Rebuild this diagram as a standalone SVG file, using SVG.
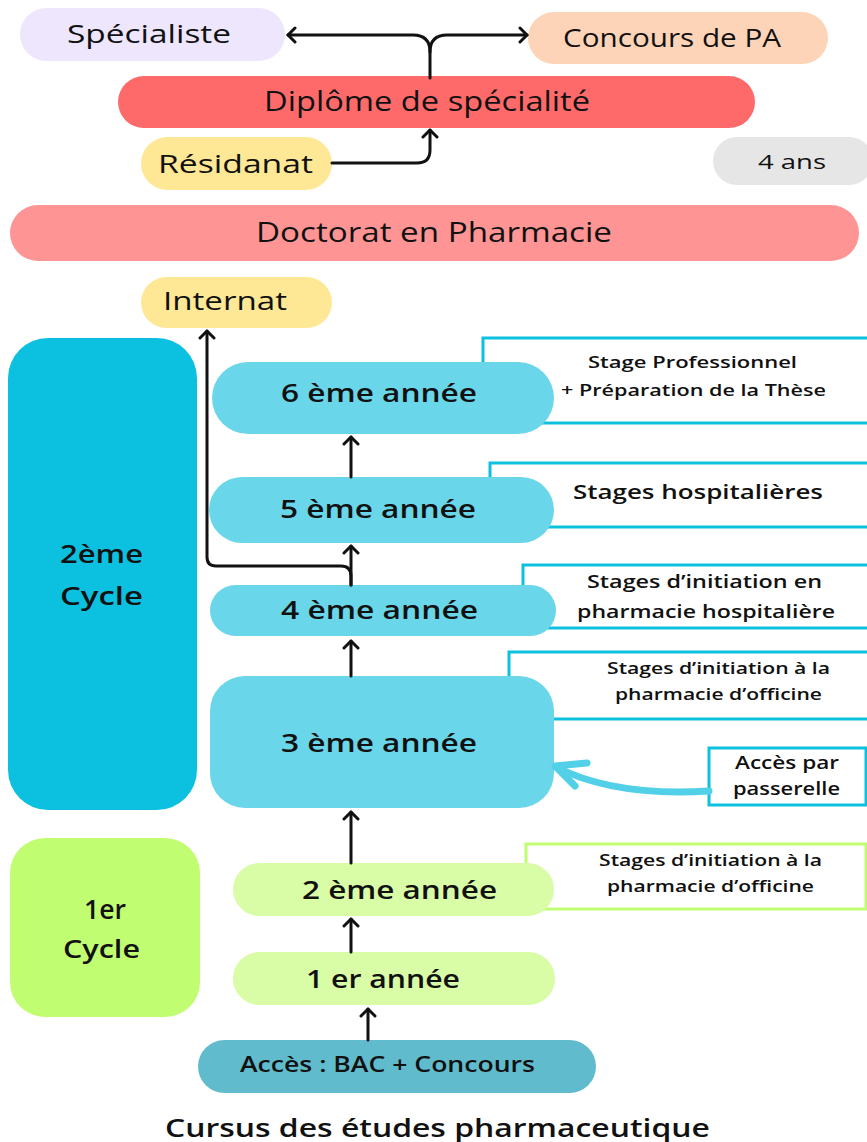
<svg xmlns="http://www.w3.org/2000/svg" width="867" height="1142" viewBox="0 0 867 1142">
<defs>
<style>
text{font-family:"Open Sans","Liberation Sans",sans-serif;fill:#111;text-anchor:middle;dominant-baseline:central}
.r{font-weight:400}
.b{font-weight:600}
.box{fill:#fff;stroke:#0cc0df;stroke-width:3}
.gbox{fill:#fff;stroke:#c1fd70;stroke-width:3}
.yr{fill:#6ad6ea}
.yg{fill:#d9fca7}
.ar{fill:none;stroke:#111;stroke-width:3;stroke-linecap:round;stroke-linejoin:round}
</style>
<marker id="ah" viewBox="-9 -9 18 18" markerWidth="18" markerHeight="18" markerUnits="userSpaceOnUse" refX="0" refY="0" orient="auto">
<path d="M-7,-7 L0,0 L-7,7" fill="none" stroke="#111" stroke-width="3" stroke-linecap="round" stroke-linejoin="round"/>
</marker>
</defs>
<rect width="867" height="1142" fill="#fff"/>

<g id="specialiste"><rect x="20" y="8" width="265" height="53" rx="26.5" fill="#ede6fd"/><text class="r" x="149" y="33" font-size="25" textLength="164" lengthAdjust="spacingAndGlyphs">Spécialiste</text></g>
<g id="concours-pa"><rect x="528" y="12" width="300" height="52" rx="26" fill="#fed4b8"/><text class="r" x="672" y="37" font-size="25" textLength="218" lengthAdjust="spacingAndGlyphs">Concours de PA</text></g>
<g id="diplome"><rect x="118" y="76" width="637" height="52" rx="26" fill="#fe6a6a"/><text class="r" x="427" y="100" font-size="27" textLength="326" lengthAdjust="spacingAndGlyphs">Diplôme de spécialité</text></g>
<g id="residanat"><rect x="141" y="137" width="191" height="53" rx="26.5" fill="#fee896"/><text class="r" x="235.5" y="163" font-size="26" textLength="155" lengthAdjust="spacingAndGlyphs">Résidanat</text></g>
<g id="quatre-ans"><rect x="713" y="137" width="160" height="48" rx="24" fill="#e6e6e6"/><text class="r" x="792" y="161" font-size="20" textLength="68" lengthAdjust="spacingAndGlyphs">4 ans</text></g>
<g id="doctorat"><rect x="10" y="205" width="849" height="56" rx="28" fill="#fe9494"/><text class="r" x="434" y="231" font-size="27" textLength="356" lengthAdjust="spacingAndGlyphs">Doctorat en Pharmacie</text></g>
<g id="internat"><rect x="141" y="277" width="191" height="51" rx="25.5" fill="#fee896"/><text class="r" x="225" y="300" font-size="26" textLength="124" lengthAdjust="spacingAndGlyphs">Internat</text></g>

<g id="cycle2"><rect x="8" y="338" width="189" height="472" rx="40" fill="#0cc0df"/><text class="b" x="101.5" y="553" font-size="26" textLength="83" lengthAdjust="spacingAndGlyphs">2ème</text><text class="b" x="101.5" y="595" font-size="26" textLength="83" lengthAdjust="spacingAndGlyphs">Cycle</text></g>
<g id="cycle1"><rect x="10" y="838" width="190" height="179" rx="35" fill="#c1fd70"/><text class="b" x="105" y="908" font-size="27" textLength="42" lengthAdjust="spacingAndGlyphs">1er</text><text class="b" x="101.5" y="948" font-size="26" textLength="77" lengthAdjust="spacingAndGlyphs">Cycle</text></g>

<g id="annee6"><rect class="box" x="483" y="338" width="390" height="85"/><rect class="yr" x="212" y="362" width="342" height="72" rx="36"/><text class="b" x="379" y="392" font-size="26" textLength="196" lengthAdjust="spacingAndGlyphs">6 ème année</text><text class="b" x="692.5" y="361" font-size="17" textLength="209" lengthAdjust="spacingAndGlyphs">Stage Professionnel</text><text class="b" x="693.5" y="389" font-size="17" textLength="265" lengthAdjust="spacingAndGlyphs">+ Préparation de la Thèse</text></g>
<g id="annee5"><rect class="box" x="490" y="463" width="383" height="64"/><rect class="yr" x="209" y="477" width="345" height="66" rx="33"/><text class="b" x="378" y="508" font-size="26" textLength="196" lengthAdjust="spacingAndGlyphs">5 ème année</text><text class="b" x="698" y="492" font-size="19" textLength="250" lengthAdjust="spacingAndGlyphs">Stages hospitalières</text></g>
<g id="annee4"><rect class="box" x="523" y="565" width="350" height="63"/><rect class="yr" x="210" y="585" width="346" height="51" rx="25.5"/><text class="b" x="379.5" y="609" font-size="26" textLength="197" lengthAdjust="spacingAndGlyphs">4 ème année</text><text class="b" x="704.5" y="581" font-size="18" textLength="235" lengthAdjust="spacingAndGlyphs">Stages d’initiation en</text><text class="b" x="706" y="611" font-size="18" textLength="258" lengthAdjust="spacingAndGlyphs">pharmacie hospitalière</text></g>
<g id="annee3"><rect class="box" x="509" y="652" width="364" height="67"/><rect class="yr" x="210" y="676" width="344" height="132" rx="35"/><text class="b" x="379" y="742" font-size="26" textLength="196" lengthAdjust="spacingAndGlyphs">3 ème année</text><text class="b" x="718.5" y="668" font-size="16" textLength="223" lengthAdjust="spacingAndGlyphs">Stages d’initiation à la</text><text class="b" x="718.5" y="694" font-size="16" textLength="207" lengthAdjust="spacingAndGlyphs">pharmacie d’officine</text></g>
<g id="passerelle"><rect class="box" x="709" y="748" width="157" height="57"/><text class="b" x="787" y="762" font-size="18" textLength="104" lengthAdjust="spacingAndGlyphs">Accès par</text><text class="b" x="786.5" y="788" font-size="18" textLength="107" lengthAdjust="spacingAndGlyphs">passerelle</text></g>
<g id="annee2"><rect class="gbox" x="526" y="844" width="340" height="65"/><rect class="yg" x="233" y="863" width="321" height="53" rx="26.5"/><text class="b" x="399.5" y="889" font-size="26" textLength="195" lengthAdjust="spacingAndGlyphs">2 ème année</text><text class="b" x="710.5" y="860" font-size="16" textLength="223" lengthAdjust="spacingAndGlyphs">Stages d’initiation à la</text><text class="b" x="710.5" y="886" font-size="16" textLength="207" lengthAdjust="spacingAndGlyphs">pharmacie d’officine</text></g>
<g id="annee1"><rect class="yg" x="233" y="952" width="322" height="53" rx="26.5"/><text class="b" x="383" y="978" font-size="26" textLength="154" lengthAdjust="spacingAndGlyphs">1 er année</text></g>
<g id="acces"><rect x="198" y="1040" width="398" height="53" rx="26.5" fill="#60bccc"/><text class="b" x="387.5" y="1064" font-size="21" textLength="295" lengthAdjust="spacingAndGlyphs">Accès : BAC + Concours</text></g>

<g id="connectors">
<path class="ar" d="M430,78 L430,52 Q430,35 413,35 L288,35" marker-end="url(#ah)"/>
<path class="ar" d="M430,52 Q430,35 447,35 L527,35" marker-end="url(#ah)"/>
<path class="ar" d="M332,163 L417,163 Q430,163 430,150 L430,130" marker-end="url(#ah)"/>
<path class="ar" d="M351,585 L351,576 Q351,566 341,566 L216,566 Q207,566 207,557 L207,331" marker-end="url(#ah)"/>
<path class="ar" d="M351,477 L351,437" marker-end="url(#ah)"/>
<path class="ar" d="M351,585 L351,546" marker-end="url(#ah)"/>
<path class="ar" d="M351,676 L351,641" marker-end="url(#ah)"/>
<path class="ar" d="M351,863 L351,812" marker-end="url(#ah)"/>
<path class="ar" d="M351,952 L351,919" marker-end="url(#ah)"/>
<path class="ar" d="M368,1040 L368,1009" marker-end="url(#ah)"/>
<g fill="none" stroke="#52d0e8" stroke-width="7" stroke-linecap="round" stroke-linejoin="round">
<path d="M709,791 Q615,797 556,767"/>
<path d="M587,763 L555,766 L575,786"/>
</g>
</g>

<text class="b" x="437.5" y="1127" font-size="25" textLength="545" lengthAdjust="spacingAndGlyphs">Cursus des études pharmaceutique</text>
</svg>
